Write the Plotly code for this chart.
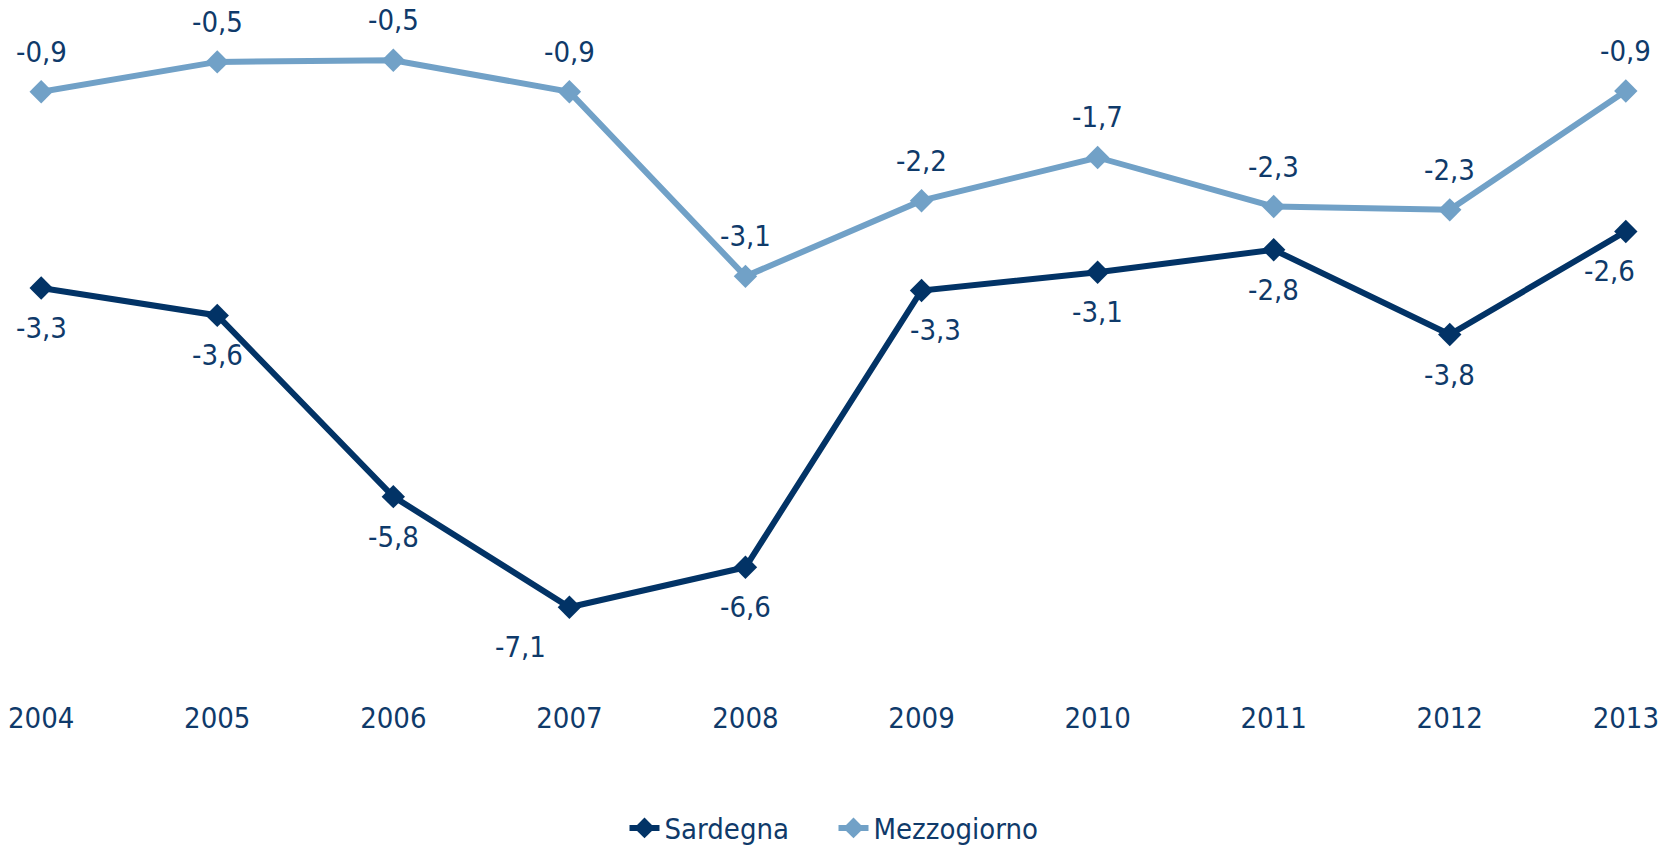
import plotly.graph_objects as go

# Dati: saldo
anni = [2004, 2005, 2006, 2007, 2008, 2009, 2010, 2011, 2012, 2013]
sardegna = [-3.26, -3.59, -5.77, -7.10, -6.62, -3.29, -3.07, -2.80, -3.82, -2.58]
mezzogiorno = [-0.90, -0.54, -0.52, -0.90, -3.12, -2.21, -1.69, -2.28, -2.32, -0.89]

col_sard = '#023366'
col_mezz = '#71A1C7'
col_text = '#0F3A6A'
font_fam = 'DejaVu Sans Condensed, DejaVu Sans'
fs = 29

# spostamenti orizzontali delle etichette (come nell'originale)
shift_sard = {2007: -49, 2009: 14, 2013: -16}

fig = go.Figure()

fig.add_trace(go.Scatter(
    x=anni, y=sardegna, name='Sardegna',
    mode='lines+markers',
    line=dict(color=col_sard, width=6),
    marker=dict(symbol='diamond', size=18, color=col_sard),
    cliponaxis=False,
))

fig.add_trace(go.Scatter(
    x=anni, y=mezzogiorno, name='Mezzogiorno',
    mode='lines+markers',
    line=dict(color=col_mezz, width=6),
    marker=dict(symbol='diamond', size=18, color=col_mezz),
    cliponaxis=False,
))

def fmt(v):
    return f'{v:.1f}'.replace('.', ',')

for a, v in zip(anni, sardegna):
    fig.add_annotation(x=a, y=v, text=fmt(v), showarrow=False, yshift=-40,
                       xshift=shift_sard.get(a, 0),
                       font=dict(size=fs, color=col_text, family=font_fam))
for a, v in zip(anni, mezzogiorno):
    fig.add_annotation(x=a, y=v, text=fmt(v), showarrow=False, yshift=40,
                       font=dict(size=fs, color=col_text, family=font_fam))

fig.update_layout(
    width=1660, height=845,
    margin=dict(l=41, r=34, t=17, b=163),
    plot_bgcolor='white', paper_bgcolor='white',
    font=dict(family=font_fam, size=fs, color=col_text),
    showlegend=True,
    legend=dict(orientation='h', x=0.5, xanchor='center',
                yref='container', y=0.02, yanchor='middle',
                font=dict(size=fs, color=col_text), entrywidth=164, entrywidthmode='pixels'),
)

fig.update_xaxes(
    tickmode='array', tickvals=anni, ticktext=[str(a) for a in anni],
    range=[2003.999, 2013.001], showgrid=False, zeroline=False, showline=False,
    ticks='', ticklabelstandoff=16, automargin=False,
    tickfont=dict(size=fs, color=col_text, family=font_fam),
)
fig.update_yaxes(range=[-8, 0], visible=False, showgrid=False, zeroline=False,
                 automargin=False)

# niente margine sul body, così il grafico riempie la finestra
fig.write_html('out.html', config={'displayModeBar': False},
               post_script="document.body.style.margin='0';document.body.style.overflow='hidden';")
